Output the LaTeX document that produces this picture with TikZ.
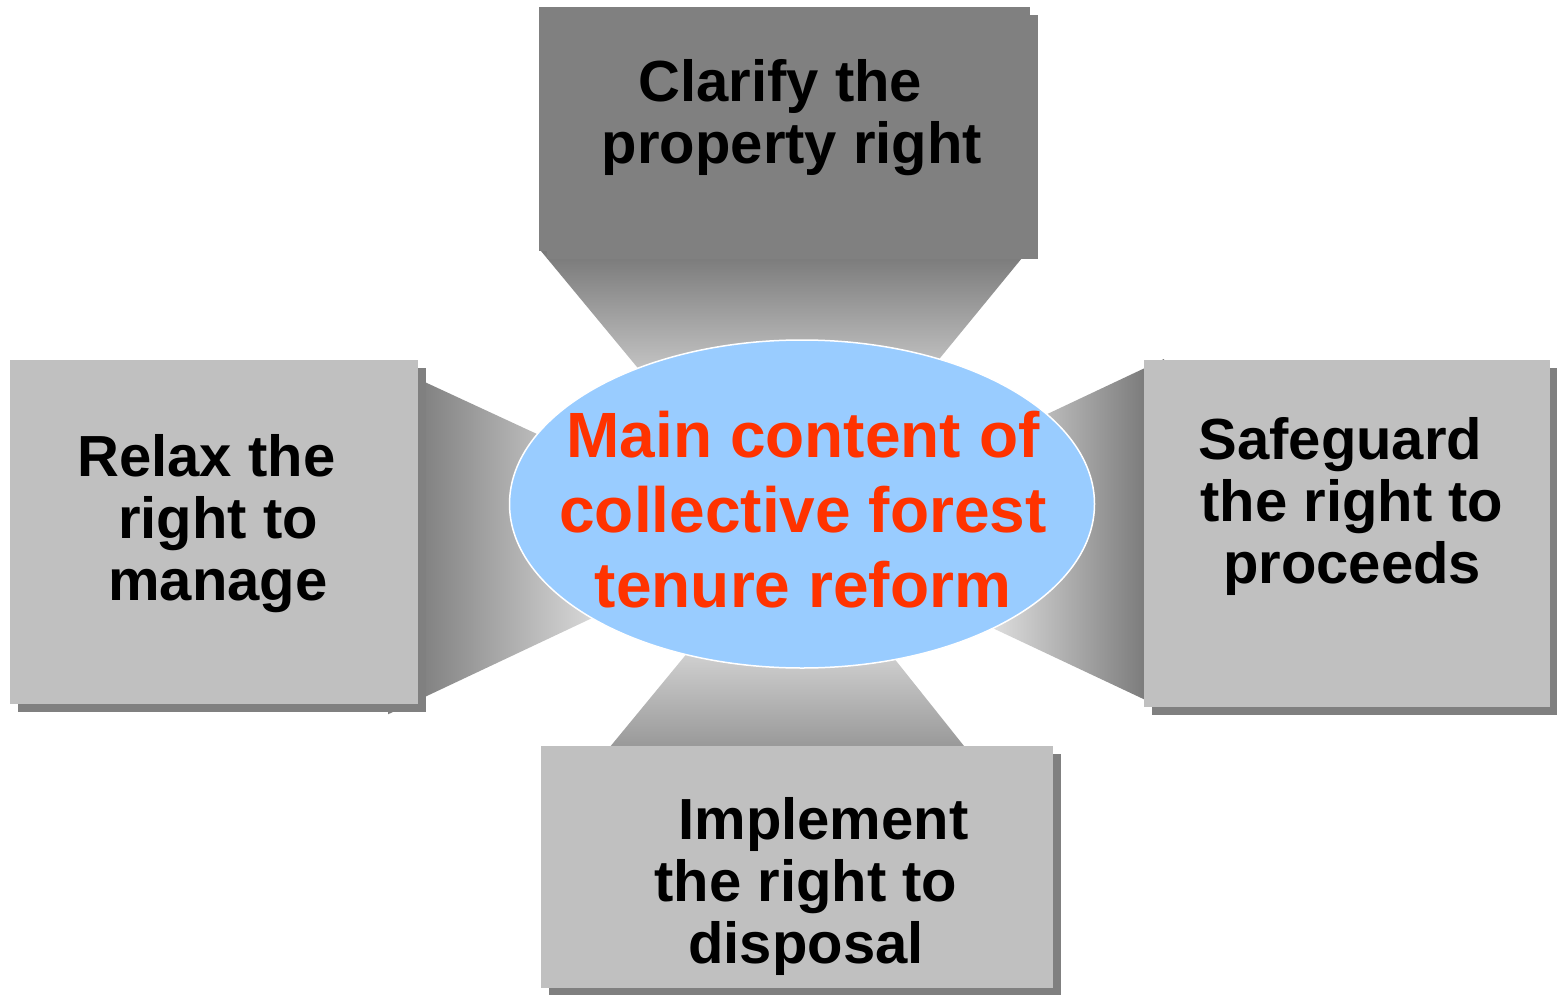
\documentclass[tikz,border=0pt]{standalone}
\usepackage{fontspec}
\setmainfont{Liberation Sans}
\usetikzlibrary{shapes.geometric,shadows}

\definecolor{panelgray}{HTML}{C0C0C0}
\definecolor{panelshadow}{HTML}{808080}
\definecolor{hubblue}{HTML}{99CCFF}
\definecolor{hubred}{HTML}{FF3300}
\definecolor{funneldark}{HTML}{777777}
\definecolor{funnelmid}{HTML}{7F7F7F}
\definecolor{funnellow}{HTML}{999999}
\definecolor{funnellight}{HTML}{F0F0F0}

\tikzset{
  panel/.style={anchor=north west, inner sep=0pt, outer sep=0pt, draw=none,
    fill=panelgray,
    drop shadow={shadow xshift=4pt, shadow yshift=-4pt, fill=panelshadow, opacity=1}},
  panellabel/.style={align=center, inner sep=0pt, text=black,
    font=\bfseries\fontsize{29}{31}\selectfont},
  hub/.style={ellipse, inner sep=0pt, fill=hubblue, draw=white, line width=0.75pt},
  hublabel/.style={align=center, inner sep=0pt, text=hubred,
    font=\bfseries\fontsize{32}{37.5}\selectfont},
}

\begin{document}
\begin{tikzpicture}[x=0.5pt, y=-0.5pt]
\useasboundingbox (0,0) rectangle (1557,995);

% funnels joining each panel to the central ellipse
\begin{scope}
  \clip (540.7,250.7) -- (1028,250.7) -- (872.8,440) -- (697.4,440) -- cycle;
  \shade[top color=funneldark, bottom color=funnellight] (530,250) rectangle (1040,440);
\end{scope}
\begin{scope}
  \clip (388,365) -- (640,481.7) -- (640,595.5) -- (388,714.3) -- cycle;
  \fill[funnelmid] (385,360) rectangle (419,720);
  \shade[left color=funnelmid, right color=funnellight] (418,360) rectangle (640,720);
\end{scope}
\begin{scope}
  \clip (1164,359) -- (964,453.3) -- (964,614.6) -- (1164,708.7) -- cycle;
  \fill[funneldark] (1151,355) rectangle (1166,715);
  \shade[left color=funnellight, right color=funneldark] (964,355) rectangle (1152,715);
\end{scope}
\begin{scope}
  \clip (610.7,746) -- (730.9,600) -- (847.6,600) -- (964,746) -- cycle;
  \shade[top color=funnellight, bottom color=funnellow] (600,600) rectangle (975,746);
\end{scope}

% panels
\node[panel, fill=panelshadow, minimum width=245.5pt, minimum height=122pt] (ptop) at (539,7) {};
\node[panel, minimum width=204pt, minimum height=172pt] (pleft) at (10,360) {};
\node[panel, minimum width=203pt, minimum height=173.5pt] (pright) at (1144,360) {};
\node[panel, minimum width=256pt, minimum height=121pt] (pbottom) at (541,746) {};

% central ellipse
\node[hub, minimum width=292.5pt, minimum height=164pt] (hub) at (802,504) {};

% texts
\node[panellabel] (ttop) at (792,117.4) {Clarify the\kern0.4em\\property right};
\node[panellabel] (tleft) at (218,524) {Relax the\kern0.4em\\right to\\manage};
\node[panellabel] (tright) at (1352,506.8) {Safeguard\kern0.4em\\the right to\\proceeds};
\node[panellabel] (tbottom) at (806,886.8) {\kern0.6em Implement\\the right to\\disposal};
\node[hublabel] (thub) at (803,509.6) {Main content of\\collective forest\\tenure reform};
\end{tikzpicture}
\end{document}
